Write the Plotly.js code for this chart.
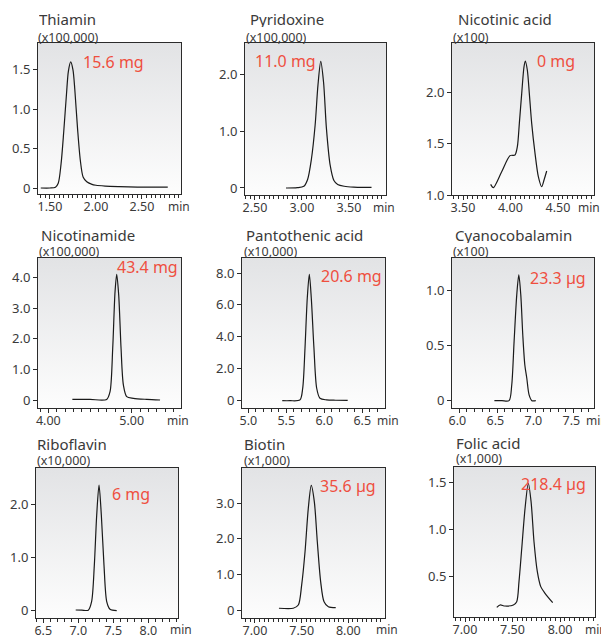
<!DOCTYPE html>
<html><head><meta charset="utf-8">
<script src="https://cdn.plot.ly/plotly-3.0.1.min.js"></script>
<style>html,body{margin:0;padding:0;background:#fff}#chart{width:601px;height:638px}</style>
</head><body><div id="chart"></div>
<script>
// ---------------- data ----------------
const thiaminTime   = [1.40, 1.50, 1.56, 1.59, 1.62, 1.65, 1.68, 1.70, 1.725, 1.75, 1.77, 1.80, 1.83, 1.86, 1.90, 1.95, 2.00, 2.10, 2.25, 2.45, 2.65, 2.78];
const thiaminSignal = [0.0, 0.0, 0.01, 0.06, 0.30, 0.72, 1.20, 1.48, 1.60, 1.50, 1.25, 0.75, 0.35, 0.14, 0.08, 0.05, 0.035, 0.025, 0.018, 0.012, 0.01, 0.01];

const pyridoxineTime   = [2.83, 2.95, 3.02, 3.06, 3.10, 3.14, 3.17, 3.20, 3.23, 3.26, 3.30, 3.34, 3.38, 3.45, 3.55, 3.65, 3.74];
const pyridoxineSignal = [0.0, 0.005, 0.03, 0.15, 0.50, 1.10, 1.80, 2.22, 1.85, 1.05, 0.40, 0.13, 0.06, 0.03, 0.015, 0.01, 0.01];

const nicotinicTime   = [3.791, 3.819, 3.907, 3.995, 4.047, 4.072, 4.093, 4.118, 4.142, 4.156, 4.177, 4.198, 4.223, 4.258, 4.293, 4.328, 4.353, 4.381];
const nicotinicSignal = [1.104, 1.072, 1.228, 1.385, 1.391, 1.472, 1.70, 1.994, 2.254, 2.31, 2.222, 1.994, 1.70, 1.407, 1.179, 1.081, 1.147, 1.235];

const nicotinamideTime   = [4.288, 4.50, 4.70, 4.74, 4.772, 4.80, 4.82, 4.844, 4.872, 4.90, 4.94, 5.02, 5.18, 5.34];
const nicotinamideSignal = [0.03, 0.03, 0.03, 0.28, 1.69, 3.53, 4.10, 3.42, 1.69, 0.50, 0.12, 0.065, 0.03, 0.01];

const pantothenicTime   = [5.447, 5.549, 5.68, 5.716, 5.746, 5.776, 5.803, 5.829, 5.864, 5.90, 5.943, 6.03, 6.15, 6.308];
const pantothenicSignal = [0.0, 0.0, 0.05, 0.78, 3.28, 6.42, 7.92, 6.42, 3.28, 0.78, 0.15, 0.05, 0.03, 0.02];

const cyanocobalaminTime   = [6.461, 6.56, 6.654, 6.689, 6.72, 6.755, 6.782, 6.808, 6.834, 6.861, 6.887, 6.917, 6.953, 7.005];
const cyanocobalaminSignal = [0.0, 0.0, 0.0, 0.143, 0.54, 0.964, 1.146, 0.964, 0.60, 0.325, 0.204, 0.052, 0.0, 0.0];

const riboflavinTime   = [6.963, 7.05, 7.143, 7.19, 7.229, 7.263, 7.296, 7.329, 7.367, 7.406, 7.453, 7.549];
const riboflavinSignal = [0.013, 0.01, 0.01, 0.17, 0.86, 1.806, 2.37, 1.806, 0.86, 0.17, 0.026, 0.0];

const biotinTime   = [7.257, 7.41, 7.464, 7.50, 7.536, 7.571, 7.603, 7.636, 7.668, 7.704, 7.74, 7.786, 7.865];
const biotinSignal = [0.05, 0.05, 0.14, 0.70, 1.63, 2.85, 3.50, 3.04, 1.91, 0.79, 0.23, 0.09, 0.065];

const folicTime   = [7.334, 7.368, 7.421, 7.509, 7.544, 7.568, 7.597, 7.632, 7.666, 7.695, 7.726, 7.761, 7.797, 7.842, 7.923];
const folicSignal = [0.174, 0.199, 0.188, 0.199, 0.234, 0.447, 0.80, 1.228, 1.494, 1.30, 0.872, 0.553, 0.394, 0.323, 0.223];

const compoundNames = ['Thiamin', 'Pyridoxine', 'Nicotinic acid', 'Nicotinamide', 'Pantothenic acid', 'Cyanocobalamin', 'Riboflavin', 'Biotin', 'Folic acid'];
const scaleLabels   = ['(x100,000)', '(x100,000)', '(x100)', '(x100,000)', '(x10,000)', '(x100)', '(x10,000)', '(x1,000)', '(x1,000)'];
const amountLabels  = ['15.6 mg', '11.0 mg', '0 mg', '43.4 mg', '20.6 mg', '23.3 µg', '6 mg', '35.6 µg', '218.4 µg'];

const xTickVals = [[1.5, 2.0, 2.5], [2.5, 3.0, 3.5], [3.5, 4.0, 4.5], [4.0, 5.0], [5.0, 5.5, 6.0, 6.5], [6.0, 6.5, 7.0, 7.5], [6.5, 7.0, 7.5, 8.0], [7.0, 7.5, 8.0], [7.0, 7.5, 8.0]];
const xTickText = [['1.50', '2.00', '2.50'], ['2.50', '3.00', '3.50'], ['3.50', '4.00', '4.50'], ['4.00', '5.00'], ['5.0', '5.5', '6.0', '6.5'], ['6.0', '6.5', '7.0', '7.5'], ['6.5', '7.0', '7.5', '8.0'], ['7.00', '7.50', '8.00'], ['7.00', '7.50', '8.00']];
const yTickVals = [[0, 0.5, 1.0, 1.5], [0, 1.0, 2.0], [1.0, 1.5, 2.0], [0, 1, 2, 3, 4], [0, 2, 4, 6, 8], [0, 0.5, 1.0], [0, 1, 2], [0, 1, 2, 3], [0.5, 1.0, 1.5]];
const yTickText = [['0', '0.5', '1.0', '1.5'], ['0', '1.0', '2.0'], ['1.0', '1.5', '2.0'], ['0', '1.0', '2.0', '3.0', '4.0'], ['0', '2.0', '4.0', '6.0', '8.0'], ['0', '0.5', '1.0'], ['0', '1.0', '2.0'], ['0', '1.0', '2.0', '3.0'], ['0.5', '1.0', '1.5']];
const unitLabel = 'min';

const seriesTime   = [thiaminTime, pyridoxineTime, nicotinicTime, nicotinamideTime, pantothenicTime, cyanocobalaminTime, riboflavinTime, biotinTime, folicTime];
const seriesSignal = [thiaminSignal, pyridoxineSignal, nicotinicSignal, nicotinamideSignal, pantothenicSignal, cyanocobalaminSignal, riboflavinSignal, biotinSignal, folicSignal];

// ---------------- layout geometry (pixels) ----------------
const W = 601, H = 638;
const boxes = [ // left, right, top, bottom
  [38, 181, 43, 194], [245, 386, 43, 195], [452, 594, 43, 195],
  [38, 181, 258, 408], [242, 385, 258, 408], [452, 594, 258, 408],
  [36, 178, 468, 618], [242, 385, 468, 618], [454, 595, 467, 617]
];
const xRanges = [[1.370, 2.924], [2.394, 3.894], [3.384, 4.879], [3.876, 5.591], [4.917, 6.799], [5.904, 7.770], [6.396, 8.424], [6.861, 8.393], [6.884, 8.368]];
const yRanges = [[-0.076, 1.84], [-0.123, 2.544], [1.0, 2.486], [-0.25, 4.628], [-0.457, 8.94], [-0.067, 1.30], [-0.138, 2.692], [-0.224, 3.99], [0.071, 1.667]];
const minorStep = [0.05, 0.05, 0.05, 0.1, 0.1, 0.1, 0.1, 0.05, 0.05];
const labelShift = [0, 0, 0, 0, 0, -2, 0, 0, 0];
const minLeft = [166, 371, 576, 165, 375, 584, 168, 374, 583];
const minY = [207, 208, 208, 421, 421, 421, 629, 629, 629];
const titlePos = [ // name left, name y, scale left, scale y
  [37, 19, 36, 36.5], [248, 19, 244, 36.5], [456, 19, 451, 36.5],
  [39, 235, 37, 251.5], [244, 235, 241.5, 251.5], [453, 234.5, 451, 251.5],
  [35, 443.5, 35, 459.5], [242, 443.5, 241.5, 459.5], [454, 442.5, 454, 458.5]
];
const amountPos = [[81, 62], [253, 61], [535, 61], [115, 266.5], [319, 275.5], [528, 278.5], [110, 494], [318, 486.5], [519, 484]];

const px = v => v / W, py = v => 1 - v / H;
const AX = '#2b2b2b', TXT = '#3a3a3a', RED = '#ef4f3f', FONT = '"Noto Sans", "Open Sans", sans-serif';

const gradSvg = '<svg xmlns="http://www.w3.org/2000/svg" width="100" height="100" preserveAspectRatio="none"><defs><linearGradient id="g" x1="0" y1="0" x2="0" y2="1"><stop offset="0" stop-color="#e2e3e5"/><stop offset="1" stop-color="#fdfdfd"/></linearGradient></defs><rect width="100" height="100" fill="url(#g)"/></svg>';
const gradSrc = 'data:image/svg+xml;charset=utf-8,' + encodeURIComponent(gradSvg);

const traces = [];
const layout = {
  width: W, height: H, margin: {l: 0, r: 0, t: 0, b: 0},
  paper_bgcolor: '#ffffff', plot_bgcolor: 'rgba(0,0,0,0)',
  showlegend: false, font: {family: FONT, color: TXT, size: 13},
  annotations: [], images: []
};

for (let i = 0; i < 9; i++) {
  const n = i === 0 ? '' : String(i + 1);
  const [l, r, t, b] = boxes[i];
  traces.push({
    type: 'scatter', mode: 'lines', x: seriesTime[i], y: seriesSignal[i],
    xaxis: 'x' + n, yaxis: 'y' + n,
    line: {color: '#1a1a1a', width: 1.2, shape: 'spline', smoothing: 0.8},
    hoverinfo: 'skip'
  });
  layout['xaxis' + n] = {
    domain: [px(l), px(r)], anchor: 'y' + n, range: xRanges[i],
    showline: true, mirror: true, linecolor: AX, linewidth: 1,
    showgrid: false, zeroline: false,
    tickmode: 'array', tickvals: xTickVals[i], ticktext: xTickText[i],
    ticks: 'outside', ticklen: 4, tickwidth: 1, tickcolor: AX,
    ticklabelstandoff: -3, ticklabelshift: labelShift[i],
    tickfont: {family: FONT, size: 12.5, color: TXT},
    minor: {tickmode: 'linear', tick0: xTickVals[i][0], dtick: minorStep[i], ticks: 'outside', ticklen: 3, tickwidth: 1, tickcolor: AX, showgrid: false},
    fixedrange: true
  };
  layout['yaxis' + n] = {
    domain: [py(b), py(t)], anchor: 'x' + n, range: yRanges[i],
    showline: true, mirror: true, linecolor: AX, linewidth: 1,
    showgrid: false, zeroline: false,
    tickmode: 'array', tickvals: yTickVals[i], ticktext: yTickText[i],
    ticks: 'outside', ticklen: 4, tickwidth: 1, tickcolor: AX,
    tickfont: {family: FONT, size: 13, color: TXT},
    fixedrange: true
  };
  layout.images.push({
    source: gradSrc, xref: 'paper', yref: 'paper',
    x: px(l), y: py(t), sizex: px(r) - px(l), sizey: py(t) - py(b),
    xanchor: 'left', yanchor: 'top', sizing: 'stretch', layer: 'below'
  });
  const tp = titlePos[i];
  layout.annotations.push({
    text: compoundNames[i], xref: 'paper', yref: 'paper', x: px(tp[0]), y: py(tp[1]),
    xanchor: 'left', yanchor: 'middle', showarrow: false, height: 16, valign: 'middle',
    font: {family: FONT, size: 15, color: TXT}
  });
  layout.annotations.push({
    text: scaleLabels[i], xref: 'paper', yref: 'paper', x: px(tp[2]), y: py(tp[3]),
    xanchor: 'left', yanchor: 'middle', showarrow: false, height: 14, valign: 'middle',
    font: {family: FONT, size: 12.5, color: TXT}
  });
  const ap = amountPos[i];
  layout.annotations.push({
    text: amountLabels[i], xref: 'paper', yref: 'paper', x: px(ap[0]), y: py(ap[1]),
    xanchor: 'left', yanchor: 'middle', showarrow: false,
    font: {family: FONT, size: 16, color: RED}
  });
  layout.annotations.push({
    text: unitLabel, xref: 'paper', yref: 'paper', x: px(minLeft[i]), y: py(minY[i]),
    xanchor: 'left', yanchor: 'middle', showarrow: false,
    font: {family: FONT, size: 12, color: TXT}
  });
}

Plotly.newPlot('chart', traces, layout, {staticPlot: true, displayModeBar: false});
</script>
</body></html>
